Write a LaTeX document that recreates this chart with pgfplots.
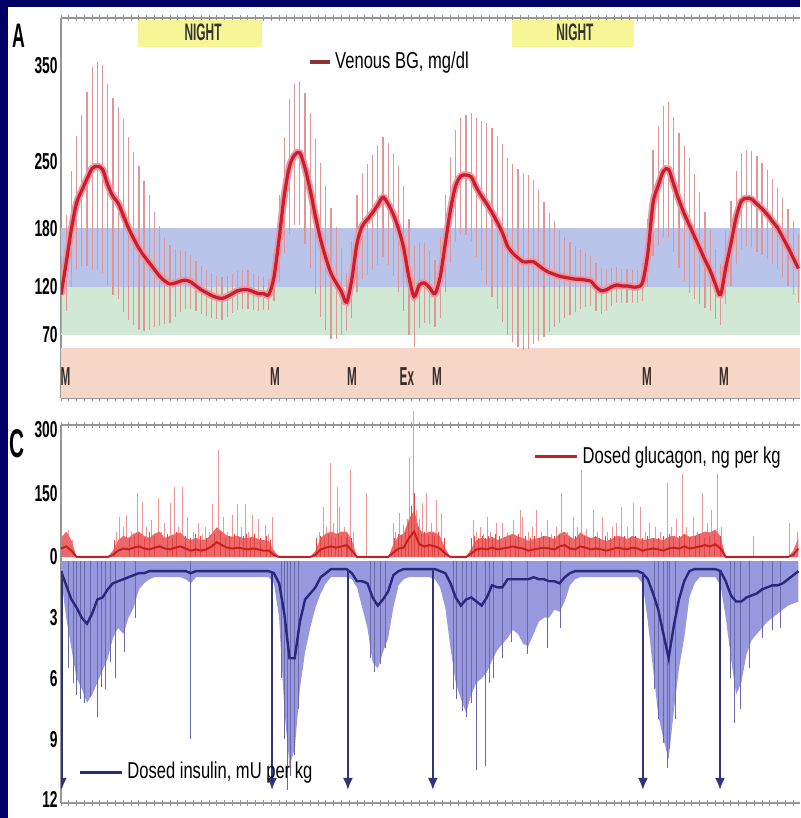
\documentclass[border=0pt]{standalone}
\usepackage{pgfplots}
\pgfplotsset{compat=1.18}
\usepackage{pgfplotstable}
\usetikzlibrary{arrows.meta}
\usepackage{fontspec}
\setmainfont{Liberation Sans}
\newfontfamily\tickfam{Liberation Sans}[FakeStretch=0.6]
\newfontfamily\legfam{Liberation Sans}[FakeStretch=0.72]
\newfontfamily\nightfam{Liberation Sans}[FakeStretch=0.5]
\newfontfamily\mfam{Liberation Sans}[FakeStretch=0.45]
\newfontfamily\panelfam{Liberation Sans}[FakeStretch=0.52]
\newcommand\tickfont{\tickfam\bfseries\fontsize{11.5}{12}\selectfont}
\newcommand\legfont{\legfam\fontsize{11.5}{13}\selectfont}
\newcommand\nightfont{\nightfam\bfseries\fontsize{11.9}{12}\selectfont}
\newcommand\mfont{\mfam\bfseries\fontsize{13}{13}\selectfont}

\definecolor{navybg}{RGB}{0,0,100}
\definecolor{bandblue}{RGB}{186,196,234}
\definecolor{bandgreen}{RGB}{208,232,212}
\definecolor{bandpeach}{RGB}{246,214,198}
\definecolor{nightyellow}{RGB}{246,246,150}
\definecolor{bgline}{RGB}{200,30,45}
\definecolor{bgglow}{RGB}{240,150,160}
\definecolor{errpink}{RGB}{222,150,150}
\definecolor{legbrown}{RGB}{140,50,50}
\definecolor{glucline}{RGB}{205,30,30}
\definecolor{glucfill}{RGB}{236,105,105}
\definecolor{glucneedle}{RGB}{238,150,150}
\definecolor{glucneedleb}{RGB}{225,70,70}
\definecolor{insline}{RGB}{40,40,125}
\definecolor{insfill}{RGB}{152,152,222}
\definecolor{insneedle}{RGB}{105,105,170}
\definecolor{arrowblue}{RGB}{50,50,125}
\definecolor{axisgray}{RGB}{150,150,150}
\definecolor{mtext}{RGB}{55,45,45}

% time in minutes, venous BG mean and SD
\pgfplotstableread{
t bg sd
0 112 40
20 145 50
40 180 60
60 207 70
80 220 78
100 232 90
120 243 105
140 245 108
160 242 108
180 226 105
200 214 102
220 207 100
240 194 100
260 181 95
280 170 90
300 160 85
320 152 78
340 145 70
360 138 60
380 131 52
400 126 45
420 123 40
440 124 35
460 126 32
480 127 30
500 125 28
520 121 26
540 117 25
560 114 24
580 111 23
600 109 22
620 108 22
640 110 21
660 113 20
680 116 20
700 117 20
720 117 20
740 115 19
760 113 18
780 113 17
800 112 16
820 130 25
840 170 45
860 215 60
880 245 70
900 257 73
920 259 75
940 243 78
960 220 80
980 193 80
1000 169 80
1020 150 75
1040 134 68
1060 124 58
1080 115 45
1100 104 30
1120 128 40
1140 165 50
1160 183 55
1180 190 58
1200 197 60
1220 205 62
1240 213 62
1260 206 63
1280 195 64
1300 180 65
1320 160 65
1340 130 60
1360 110 52
1380 122 45
1400 124 42
1420 119 38
1440 113 35
1460 130 42
1480 165 50
1500 200 55
1520 225 58
1540 235 60
1560 236 62
1580 234 66
1600 223 72
1620 214 78
1640 206 84
1660 197 88
1680 187 90
1700 176 92
1720 162 92
1740 155 92
1760 150 92
1780 146 92
1800 146 90
1820 146 85
1840 142 78
1860 138 70
1880 135 62
1900 133 55
1920 131 48
1940 130 42
1960 129 38
1980 128 34
2000 128 31
2020 127 28
2040 126 26
2060 120 25
2080 116 24
2100 117 22
2120 120 20
2140 122 19
2160 121 18
2180 121 18
2200 120 17
2220 120 17
2240 125 20
2260 155 35
2280 207 55
2300 225 62
2320 240 68
2340 242 70
2360 226 70
2380 210 70
2400 196 70
2420 184 70
2440 172 65
2460 160 58
2480 148 50
2500 137 42
2520 123 36
2540 112 32
2560 140 38
2580 165 44
2600 192 48
2620 209 50
2640 212 50
2660 211 50
2680 206 50
2700 201 48
2720 195 46
2740 188 44
2760 181 42
2780 171 41
2800 161 40
2820 150 38
2840 139 36
}\bgdata

% glucagon mean / upper envelope, insulin mean / lower envelope
\pgfplotstableread{
t gm gu im il
0 20 45 0.7 1.0
20 25 60 1.4 3.0
40 15 40 2.1 4.5
60 0 0 2.5 6.0
80 0 0 3.0 6.5
100 0 0 3.3 7.2
120 0 0 2.8 6.8
140 0 0 2.1 6.2
160 0 0 2.0 5.6
180 0 0 1.6 5.0
200 5 15 1.3 4.0
220 15 40 1.2 3.5
240 20 50 1.1 3.8
260 18 45 1.0 3.0
280 22 55 0.9 2.5
300 25 60 0.8 1.6
320 20 50 0.8 1.3
340 18 45 0.7 1.1
360 22 55 0.7 1.0
380 25 60 0.7 1.0
400 20 45 0.7 1.0
420 18 50 0.7 1.0
440 22 55 0.7 1.0
460 25 58 0.7 1.0
480 20 45 0.7 1.1
500 15 40 0.8 1.3
520 18 45 0.7 1.0
540 15 40 0.7 1.0
560 18 42 0.7 1.0
580 25 55 0.7 1.0
600 35 70 0.7 1.0
620 28 60 0.7 1.0
640 22 50 0.7 1.0
660 20 48 0.7 1.0
680 22 50 0.7 1.0
700 20 45 0.7 1.0
720 18 45 0.7 1.0
740 20 48 0.7 1.0
760 18 42 0.7 1.0
780 15 40 0.7 1.0
800 15 38 0.7 1.0
820 5 15 0.8 1.3
840 0 0 1.3 3.0
860 0 0 2.8 7.5
880 0 0 5.0 10.3
900 0 0 5.0 9.5
920 0 0 3.2 6.5
940 0 0 2.1 4.7
960 0 0 1.8 3.5
980 5 15 1.5 2.5
1000 18 45 1.0 1.8
1020 22 55 0.8 1.3
1040 25 60 0.6 1.0
1060 22 55 0.6 1.0
1080 25 60 0.6 1.0
1100 28 60 0.6 1.0
1120 15 40 0.8 1.1
1140 0 0 1.2 1.5
1160 0 0 1.2 2.5
1180 0 0 1.3 3.5
1200 0 0 2.0 5.2
1220 0 0 2.4 5.5
1240 0 0 2.1 4.7
1260 0 0 1.7 4.0
1280 10 30 0.9 2.5
1300 20 50 0.7 1.4
1320 22 55 0.6 1.1
1340 45 90 0.6 1.0
1360 60 110 0.6 1.0
1380 30 65 0.6 1.0
1400 25 55 0.6 1.0
1420 28 60 0.6 1.0
1440 25 58 0.6 1.1
1460 20 48 0.7 1.5
1480 8 20 0.8 2.5
1500 0 0 1.3 4.5
1520 0 0 2.0 6.2
1540 0 0 2.4 7.0
1560 0 0 2.1 7.7
1580 8 20 2.0 6.8
1600 18 40 2.2 6.2
1620 20 45 2.4 6.0
1640 18 42 2.0 5.7
1660 22 48 1.4 5.1
1680 18 40 1.5 4.6
1700 20 45 1.5 4.3
1720 22 50 1.1 4.0
1740 25 55 1.1 3.6
1760 22 48 1.1 3.8
1780 20 45 1.1 4.3
1800 15 38 1.1 4.4
1820 18 42 1.0 3.8
1840 20 45 1.1 3.2
1860 22 50 1.1 3.0
1880 20 48 1.2 3.0
1900 18 42 1.2 2.6
1920 25 55 1.3 2.7
1940 28 60 1.0 2.2
1960 20 48 0.8 1.4
1980 18 42 0.7 1.1
2000 25 58 0.7 1.0
2020 22 50 0.7 1.0
2040 18 45 0.7 1.0
2060 20 48 0.7 1.0
2080 18 42 0.7 1.0
2100 15 38 0.7 1.0
2120 18 42 0.7 1.0
2140 22 50 0.7 1.0
2160 20 48 0.7 1.0
2180 18 42 0.7 1.0
2200 22 50 0.7 1.0
2220 20 45 0.7 1.0
2240 15 40 0.8 1.3
2260 18 42 1.1 3.2
2280 20 45 1.8 5.5
2300 18 42 2.6 7.8
2320 15 40 3.8 9.0
2340 20 48 5.0 10.0
2360 22 50 3.4 7.6
2380 20 45 2.1 5.5
2400 25 55 1.2 4.0
2420 20 48 0.7 2.0
2440 22 50 0.6 1.3
2460 25 55 0.6 1.0
2480 28 60 0.6 1.0
2500 25 58 0.6 1.0
2520 30 65 0.6 1.0
2540 20 48 0.7 1.4
2560 0 0 1.2 3.0
2580 0 0 1.9 5.0
2600 0 0 2.2 6.8
2620 0 0 2.2 6.2
2640 0 0 2.0 4.8
2660 0 0 1.9 4.1
2680 0 0 1.8 3.8
2700 0 0 1.6 3.5
2720 0 0 1.5 3.2
2740 0 0 1.4 3.0
2760 0 0 1.4 2.8
2780 0 0 1.3 2.6
2800 0 0 1.1 2.4
2820 5 15 0.9 2.3
2840 20 45 0.7 2.2
}\pumpdata

% tall glucagon needles
\pgfplotstableread{
t v
10 50
30 64
45 40
215 60
227 95
240 70
254 100
270 60
293 150
312 130
330 70
350 87
374 140
388 60
400 80
420 127
439 165
452 70
466 165
489 95
510 60
528 80
545 55
555 70
570 60
582 125
605 253
624 95
640 60
659 100
678 125
695 70
709 125
722 60
736 100
759 90
786 75
800 55
813 95
995 60
1009 118
1022 70
1036 222
1050 80
1063 165
1074 118
1090 70
1113 205
1125 60
1175 151
1279 80
1290 60
1305 104
1320 75
1333 90
1344 236
1356 345
1370 110
1382 90
1394 127
1409 151
1425 80
1448 135
1467 104
1587 87
1600 60
1615 70
1628 55
1641 95
1655 60
1679 80
1702 80
1720 60
1741 87
1768 111
1779 95
1800 60
1815 70
1833 111
1850 60
1872 87
1890 55
1910 70
1929 151
1950 60
1972 95
1990 70
2006 205
2025 65
2049 111
2065 60
2087 95
2105 60
2125 70
2140 80
2160 118
2180 70
2203 127
2230 118
2250 60
2268 80
2290 70
2310 60
2334 175
2350 70
2370 90
2395 197
2410 70
2434 95
2450 60
2472 151
2490 80
2507 111
2530 197
2545 70
2665 50
2807 80
2838 60
}\glucspikes

% short dense glucagon needles
\pgfplotstableread{
t v
205 40
263 45
283 50
300 55
320 45
340 60
362 50
410 55
430 45
445 60
478 50
500 45
518 55
538 50
562 45
592 55
615 60
632 45
650 50
668 55
688 45
702 50
716 55
729 45
746 55
770 45
793 50
806 40
985 45
1000 50
1015 45
1030 55
1043 50
1057 45
1068 55
1082 50
1098 45
1105 55
1118 45
1285 45
1298 55
1312 50
1326 60
1338 80
1350 120
1362 150
1376 70
1388 55
1401 60
1416 50
1432 55
1440 50
1455 60
1475 45
1580 45
1593 50
1607 45
1622 50
1635 45
1648 50
1662 45
1672 55
1690 50
1710 45
1730 50
1750 45
1760 55
1790 50
1808 45
1825 50
1842 45
1860 50
1880 45
1900 50
1918 55
1938 50
1960 45
1980 50
1998 45
2015 50
2035 45
2057 50
2075 45
2095 50
2115 45
2132 50
2150 45
2170 50
2192 45
2212 50
2240 45
2260 50
2280 45
2300 45
2320 50
2342 55
2360 45
2380 50
2402 55
2420 45
2442 50
2460 55
2480 45
2498 50
2518 55
2538 50
}\glucspikessmall

% insulin needles (extremes)
\pgfplotstableread{
t v
30 5.5
50 6.2
60 6.8
75 7.0
90 7.2
115 6.9
139 7.9
155 6.4
170 6.5
190 5.2
208 6.0
246 4.7
285 3.0
497 9.0
850 6.0
860 9.0
874 11.5
885 10.8
900 9.8
915 7.5
1190 5.0
1209 5.7
1230 5.3
1250 4.5
1510 6.5
1525 7.0
1545 7.6
1563 7.9
1580 7.2
1602 10.5
1633 10.3
1650 6.2
1664 6.0
1700 5.0
1735 4.2
1795 4.8
1875 4.5
1925 3.5
2285 6.5
2300 8.0
2320 9.2
2334 10.4
2345 9.5
2365 8.0
2580 6.0
2595 8.2
2615 7.5
2650 5.5
2700 4.0
2740 3.6
2770 3.5
}\insspikes

\pgfplotsset{
  panel/.style={
    scale only axis, width=369.5pt, xmin=0, xmax=2846,
    xtick distance=30, xticklabels={},
    axis line style={axisgray, line width=0.6pt},
    tick style={axisgray, line width=0.5pt},
    major tick length=3pt, xtick align=center,
    ytick style={draw=none},
    yticklabel style={font=\tickfont, inner xsep=1.5pt},
    /pgf/number format/assume math mode=true,
  }
}

\begin{document}
\begin{tikzpicture}
\useasboundingbox (0,0) rectangle (400pt,409pt);
\fill[navybg] (0,0) rectangle (400pt,409pt);
\fill[white] (4pt,0) rectangle (400pt,405.5pt);

% ---------------- Panel A ----------------
\begin{axis}[panel, at={(30.5pt,210pt)}, anchor=south west, height=190pt,
  ymin=4.7, ymax=399, ytick={70,120,180,250,350},
  axis x line*=box, axis y line*=left,
  legend style={at={(0.334,0.884)}, anchor=west, draw=none, fill=none,
    font=\legfont, inner sep=0pt, nodes={inner sep=1.5pt}},
  legend image code/.code={\draw[line width=2pt, legbrown] (0pt,0pt) -- (10pt,0pt);}]
\fill[bandpeach] (axis cs:0,0) rectangle (axis cs:2846,57);
\fill[bandgreen] (axis cs:0,70) rectangle (axis cs:2846,120);
\fill[bandblue] (axis cs:0,120) rectangle (axis cs:2846,181);
\fill[nightyellow] (axis cs:296,369) rectangle (axis cs:774,397);
\fill[nightyellow] (axis cs:1737,369) rectangle (axis cs:2206,397);
\node[font=\nightfont, text=black!80] at (axis cs:547,384) {NIGHT};
\node[font=\nightfont, text=black!80] at (axis cs:1979,384) {NIGHT};
\node[font=\mfont, text=mtext] at (axis cs:17,27) {M};
\node[font=\mfont, text=mtext] at (axis cs:824,27) {M};
\node[font=\mfont, text=mtext] at (axis cs:1121,27) {M};
\node[font=\mfont, text=mtext] at (axis cs:1332,27) {Ex};
\node[font=\mfont, text=mtext] at (axis cs:1448,27) {M};
\node[font=\mfont, text=mtext] at (axis cs:2257,27) {M};
\node[font=\mfont, text=mtext] at (axis cs:2553,27) {M};
\addplot[forget plot, draw=none, error bars/.cd, y dir=both, y explicit,
  error mark=none, error bar style={draw=errpink, line width=0.6pt}]
  table[x=t, y=bg, y error=sd] {\bgdata};
\addplot[forget plot, line width=3.5pt, bgglow, smooth] table[x=t, y=bg] {\bgdata};
\addplot[line width=1.6pt, bgline, smooth] table[x=t, y=bg] {\bgdata};
\addlegendentry{Venous BG, mg/dl}
\end{axis}

% ---------------- Panel C: glucagon ----------------
\begin{axis}[panel, at={(30.5pt,128.5pt)}, anchor=south west, height=68pt,
  ymin=-9.45, ymax=311.8, ytick={0,150,300},
  axis x line*=top, axis y line*=left, clip=false,
  legend style={at={(0.639,0.765)}, anchor=west, draw=none, fill=none,
    font=\legfont, inner sep=0pt, nodes={inner sep=2pt}},
  legend image code/.code={\draw[line width=1.5pt, glucline] (0pt,0pt) -- (21pt,0pt);}]
\addplot[forget plot, ycomb, glucneedle, line width=0.5pt] table[x=t, y=v] {\glucspikes};
\addplot[forget plot, draw=none, fill=glucfill] table[x=t, y=gu] {\pumpdata} \closedcycle;
\addplot[forget plot, ycomb, glucneedleb, line width=0.5pt] table[x=t, y=v] {\glucspikessmall};
\addplot[glucline, line width=1pt] table[x=t, y=gm] {\pumpdata};
\addlegendentry{Dosed glucagon, ng per kg}
\end{axis}

% ---------------- Panel C: insulin ----------------
\begin{axis}[panel, at={(30.5pt,7.5pt)}, anchor=south west, height=121pt,
  ymin=0.2, ymax=12.15, y dir=reverse, ytick={3,6,9,12},
  axis x line*=bottom, axis y line*=left,
  legend style={at={(0.023,0.128)}, anchor=west, draw=none, fill=none,
    font=\legfont, inner sep=0pt, nodes={inner sep=2pt}},
  legend image code/.code={\draw[line width=1.5pt, insline] (0pt,0pt) -- (21pt,0pt);}]
\addplot[forget plot, draw=none, fill=insfill] table[x=t, y=il] {\pumpdata} \closedcycle;
\addplot[forget plot, ycomb, insneedle, line width=0.5pt] table[x=t, y=v] {\insspikes};
\addplot[insline, line width=1.2pt] table[x=t, y=im] {\pumpdata};
\addlegendentry{Dosed insulin, mU per kg}
\addplot[forget plot, arrowblue, line width=0.9pt, -{Latex[length=6pt,width=5pt]}] coordinates {(3,0.7) (3,11.5)};
\addplot[forget plot, arrowblue, line width=0.9pt, -{Latex[length=6pt,width=5pt]}] coordinates {(813,0.8) (813,11.5)};
\addplot[forget plot, arrowblue, line width=0.9pt, -{Latex[length=6pt,width=5pt]}] coordinates {(1105,0.6) (1105,11.5)};
\addplot[forget plot, arrowblue, line width=0.9pt, -{Latex[length=6pt,width=5pt]}] coordinates {(1432,0.6) (1432,11.5)};
\addplot[forget plot, arrowblue, line width=0.9pt, -{Latex[length=6pt,width=5pt]}] coordinates {(2241,0.8) (2241,11.5)};
\addplot[forget plot, arrowblue, line width=0.9pt, -{Latex[length=6pt,width=5pt]}] coordinates {(2538,0.7) (2538,11.5)};
\end{axis}

\node[font=\panelfam\bfseries\fontsize{17}{17}\selectfont] at (9.25pt,391.25pt) {A};
\node[font=\panelfam\bfseries\fontsize{20}{20}\selectfont] at (8.75pt,187pt) {C};
\end{tikzpicture}
\end{document}
